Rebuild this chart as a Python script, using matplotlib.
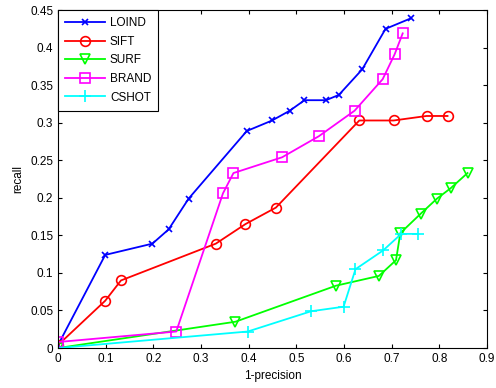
import matplotlib
matplotlib.use("Agg")
import matplotlib.pyplot as plt

plt.rcParams['font.family'] = ['Liberation Sans', 'DejaVu Sans']

loind_x = [0.0, 0.099, 0.198, 0.232, 0.274, 0.396, 0.449, 0.486, 0.517, 0.562, 0.589, 0.638, 0.687, 0.740]
loind_y = [0.004, 0.124, 0.139, 0.158, 0.199, 0.289, 0.303, 0.316, 0.330, 0.330, 0.337, 0.371, 0.425, 0.439]

sift_x = [0.0, 0.099, 0.132, 0.331, 0.393, 0.457, 0.632, 0.704, 0.773, 0.817]
sift_y = [0.004, 0.063, 0.090, 0.139, 0.165, 0.187, 0.303, 0.303, 0.309, 0.309]

surf_x = [0.0, 0.372, 0.583, 0.673, 0.709, 0.718, 0.761, 0.795, 0.824, 0.859]
surf_y = [0.0, 0.035, 0.083, 0.096, 0.117, 0.153, 0.179, 0.199, 0.213, 0.233]

brand_x = [0.0, 0.248, 0.346, 0.368, 0.470, 0.547, 0.622, 0.681, 0.706, 0.723]
brand_y = [0.008, 0.022, 0.206, 0.233, 0.254, 0.282, 0.316, 0.358, 0.391, 0.419]

cshot_x = [0.0, 0.398, 0.531, 0.599, 0.624, 0.682, 0.720, 0.755]
cshot_y = [0.0, 0.022, 0.049, 0.055, 0.105, 0.130, 0.152, 0.152]

labels = ['LOIND', 'SIFT', 'SURF', 'BRAND', 'CSHOT']
xticks = [0, 0.1, 0.2, 0.3, 0.4, 0.5, 0.6, 0.7, 0.8, 0.9]
yticks = [0, 0.05, 0.1, 0.15, 0.2, 0.25, 0.3, 0.35, 0.4, 0.45]

fig = plt.figure(figsize=(4.96, 3.88), dpi=100)
ax = fig.add_axes([0.117, 0.103, 0.865, 0.871])

lw = 1.3
ax.plot(loind_x, loind_y, color='#0000ff', marker='x', ms=4.5, mew=1.2, lw=lw, label=labels[0])
ax.plot(sift_x, sift_y, color='#ff0000', marker='o', ms=7, mfc='none', mew=1.2, lw=lw, label=labels[1])
ax.plot(surf_x, surf_y, color='#00ff00', marker='v', ms=7.5, mfc='none', mew=1.2, lw=lw, label=labels[2])
ax.plot(brand_x, brand_y, color='#ff00ff', marker='s', ms=6.5, mfc='none', mew=1.2, lw=lw, label=labels[3])
ax.plot(cshot_x, cshot_y, color='#00ffff', marker='+', ms=8, mew=1.2, lw=lw, label=labels[4])

ax.set_xlim(0, 0.9)
ax.set_ylim(0, 0.45)
ax.set_xticks(xticks)
ax.set_xticklabels(['0', '0.1', '0.2', '0.3', '0.4', '0.5', '0.6', '0.7', '0.8', '0.9'])
ax.set_yticks(yticks)
ax.set_yticklabels(['0', '0.05', '0.1', '0.15', '0.2', '0.25', '0.3', '0.35', '0.4', '0.45'])
ax.tick_params(direction='in', top=True, right=True, length=3, labelsize=8.5, width=0.8)
for s in ax.spines.values():
    s.set_linewidth(0.8)

ax.set_xlabel('1-precision', fontsize=8.5, labelpad=4)
ax.set_ylabel('recall', fontsize=8.5, labelpad=4)

leg = ax.legend(loc='upper left', fontsize=8.5, fancybox=False, framealpha=1,
                edgecolor='black', borderpad=0.6, labelspacing=0.56, handlelength=3.4,
                handletextpad=0.4, borderaxespad=0)
leg.get_frame().set_linewidth(0.8)

fig.savefig('out.png', dpi=100)
